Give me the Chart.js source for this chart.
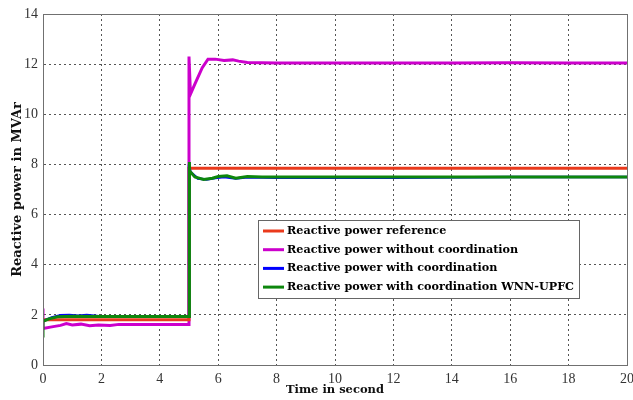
<!DOCTYPE html>
<html>
<head>
<meta charset="utf-8">
<script src="https://cdn.jsdelivr.net/npm/chart.js@4.4.1/dist/chart.umd.min.js"></script>
<style>
  html, body { margin: 0; padding: 0; background: #fff; overflow: hidden; }
  canvas { display: block; }
</style>
</head>
<body>
<canvas id="qChart" width="640" height="400"></canvas>
<script>
// series labels
const seriesLabels = [
  'Reactive power reference',
  'Reactive power without coordination',
  'Reactive power with coordination',
  'Reactive power with coordination WNN-UPFC'
];

// time (s) and reactive power (MVAr)
const refT = [0, 5, 5, 20];
const refQ = [1.8, 1.8, 7.85, 7.85];

const noCoordT = [0, 0, 0.05, 0.3, 0.6, 0.8, 1.0, 1.3, 1.6, 1.9, 2.3, 2.6, 5, 5, 5.05, 5.2, 5.45, 5.65, 5.9, 6.2, 6.5, 6.7, 7.0, 8, 10, 12, 14, 16, 18, 20];
const noCoordQ = [2.25, 1.47, 1.47, 1.52, 1.58, 1.65, 1.6, 1.63, 1.57, 1.6, 1.58, 1.62, 1.62, 12.3, 10.8, 11.2, 11.85, 12.2, 12.2, 12.15, 12.17, 12.12, 12.07, 12.05, 12.05, 12.05, 12.05, 12.06, 12.05, 12.05];

const coordT = [0, 0.3, 0.6, 0.9, 1.2, 1.5, 2, 5, 5, 5.05, 5.3, 5.6, 5.9, 6.2, 6.6, 7.0, 8, 10, 12, 16, 20];
const coordQ = [1.75, 1.9, 1.98, 1.99, 1.96, 1.99, 1.93, 1.93, 8.0, 7.7, 7.44, 7.4, 7.46, 7.5, 7.44, 7.49, 7.47, 7.47, 7.47, 7.5, 7.5];

const wnnT = [0, 0, 0.2, 0.5, 1, 2, 5, 5, 5.03, 5.2, 5.5, 5.8, 6.0, 6.3, 6.6, 7.0, 7.5, 10, 20];
const wnnQ = [1.1, 1.74, 1.84, 1.92, 1.94, 1.93, 1.93, 8.1, 7.75, 7.5, 7.4, 7.45, 7.52, 7.55, 7.45, 7.52, 7.5, 7.5, 7.5];

const xTicks = [0, 2, 4, 6, 8, 10, 12, 14, 16, 18, 20];
const yTicks = [0, 2, 4, 6, 8, 10, 12, 14];

const colors = ['#ea3a1c', '#cc00cc', '#0000ff', '#0d870d'];

function pts(t, q) {
  return t.map((v, i) => ({ x: v, y: q[i] }));
}

const boxPlugin = {
  id: 'boxAndLegend',
  afterDraw(chart) {
    const { ctx, chartArea: a } = chart;
    ctx.save();
    ctx.strokeStyle = '#707070';
    ctx.lineWidth = 1;
    ctx.strokeRect(a.left + 0.5, a.top + 0.5, a.right - a.left, a.bottom - a.top);

    // legend box inside the plot
    const lx = 258, ly = 220, lw = 321, lh = 78;
    ctx.fillStyle = '#fff';
    ctx.fillRect(lx, ly, lw, lh);
    ctx.strokeStyle = '#666';
    ctx.strokeRect(lx + 0.5, ly + 0.5, lw, lh);
    ctx.font = 'bold 11.2px "DejaVu Serif"';
    ctx.textBaseline = 'middle';
    chart.data.datasets.forEach((ds, i) => {
      const y = ly + 11 + i * 18.7;
      ctx.strokeStyle = ds.borderColor;
      ctx.lineWidth = 3;
      ctx.beginPath();
      ctx.moveTo(lx + 5, y);
      ctx.lineTo(lx + 26, y);
      ctx.stroke();
      ctx.fillStyle = '#000';
      ctx.fillText(ds.label, lx + 29, y);
    });
    ctx.restore();
  }
};

new Chart(document.getElementById('qChart'), {
  type: 'line',
  data: {
    datasets: [
      { label: seriesLabels[0], data: pts(refT, refQ), borderColor: colors[0], borderWidth: 3, order: 2 },
      { label: seriesLabels[1], data: pts(noCoordT, noCoordQ), borderColor: colors[1], borderWidth: 3, order: 3 },
      { label: seriesLabels[2], data: pts(coordT, coordQ), borderColor: colors[2], borderWidth: 2.5, order: 1 },
      { label: seriesLabels[3], data: pts(wnnT, wnnQ), borderColor: colors[3], borderWidth: 3, order: 0 }
    ]
  },
  options: {
    responsive: false,
    animation: false,
    parsing: false,
    layout: { padding: { top: 14, right: 13, left: 0, bottom: 0 } },
    elements: { point: { radius: 0 }, line: { tension: 0, fill: false } },
    plugins: { legend: { display: false }, tooltip: { enabled: false } },
    scales: {
      x: {
        type: 'linear',
        min: 0, max: 20,
        afterBuildTicks: s => { s.ticks = xTicks.map(v => ({ value: v })); },
        afterFit: s => { s.height = 35; },
        grid: { color: '#555', lineWidth: 1, drawTicks: false },
        border: { color: '#707070', dash: [2, 3] },
        ticks: { padding: 6, color: '#333', font: { family: '"Liberation Serif", serif', size: 14 } },
        title: {
          display: true, text: 'Time in second', color: '#111',
          font: { family: '"DejaVu Serif"', size: 11.5, weight: 'bold' },
          padding: { top: 0, bottom: 3 }
        }
      },
      y: {
        min: 0, max: 14,
        afterBuildTicks: s => { s.ticks = yTicks.map(v => ({ value: v })); },
        afterFit: s => { s.width = 43; },
        grid: { color: '#555', lineWidth: 1, drawTicks: false },
        border: { color: '#707070', dash: [2, 3] },
        ticks: { padding: 5, color: '#333', font: { family: '"Liberation Serif", serif', size: 14 } },
        title: {
          display: true, text: 'Reactive power in MVAr', color: '#111',
          font: { family: '"DejaVu Serif"', size: 13, weight: 'bold' },
          padding: { top: 10, bottom: 0 }
        }
      }
    }
  },
  plugins: [boxPlugin]
});
</script>
</body>
</html>
